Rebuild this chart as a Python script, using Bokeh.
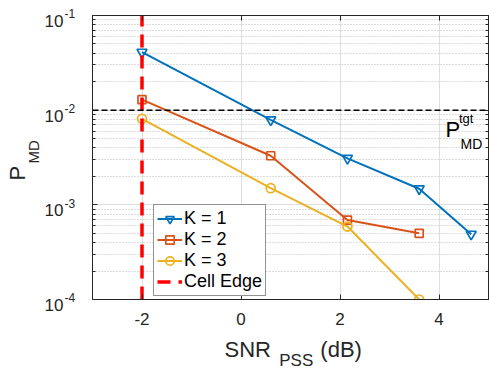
import math
from bokeh.plotting import figure
from bokeh.layouts import row, column
from bokeh.core.properties import value
from bokeh.models import (Range1d, FixedTicker, LogAxis, LinearAxis, Span, Label,
                          Legend, LegendItem, CustomJSTickFormatter)
from bokeh.embed import file_html
from bokeh.resources import INLINE

# ---- data ----
snr_k1 = [-2, 0.6, 2.15, 3.6, 4.65]
pmd_k1 = [0.041, 0.0079, 0.0031, 0.00148, 0.00049]
snr_k2 = [-2, 0.6, 2.15, 3.6]
pmd_k2 = [0.0129, 0.0033, 0.00069, 0.0005]
snr_k3 = [-2, 0.6, 2.15, 3.6]
pmd_k3 = [0.0081, 0.0015, 0.00059, 0.0001]
series_labels = ["K = 1", "K = 2", "K = 3"]
cell_edge_snr = -2
edge_label = "Cell Edge"
pmd_target = 1e-2
x_ticks = [-2, 0, 2, 4]
y_ticks = [1e-4, 1e-3, 1e-2, 1e-1]
y_tick_exps = ["-4", "-3", "-2", "-1"]
x_lim = (-3, 5)
y_lim = (1e-4, 1e-1)

# ---- layout (canvas pixels) ----
W, H = 489, 371
FL, FR, FT, FB = 92, 488, 15, 299       # plot frame edges on the page
LW = 84                                   # width of the left text strip
MAIN_H = 338                              # height of the main figure
AX = "#262626"
FONT = "Liberation Sans"

fw = FR - FL
fh = FB - FT
ldec = math.log10(y_lim[1]) - math.log10(y_lim[0])


def px_x(px):
    return x_lim[0] + (px - FL) / fw * (x_lim[1] - x_lim[0])


def px_y(py):
    frac = (FB - py) / fh
    return 10 ** (math.log10(y_lim[0]) + frac * ldec)


def py_of(yv):
    return FT + (math.log10(y_lim[1]) - math.log10(yv)) / ldec * fh


# ---- main figure ----
p = figure(width=W - LW, height=MAIN_H, x_range=Range1d(*x_lim), y_range=Range1d(*y_lim),
           y_axis_type="log", output_backend="svg", toolbar_location=None,
           min_border_left=FL - LW, min_border_right=W - FR,
           min_border_top=FT, min_border_bottom=MAIN_H - FB)
p.background_fill_color = "white"
p.border_fill_color = "white"
p.outline_line_color = AX
p.outline_line_width = 1

minor = [m * 10 ** e for e in (-4, -3, -2) for m in range(2, 10)]


def style_axis(ax):
    ax.axis_line_color = AX
    ax.axis_line_width = 1
    ax.major_tick_line_color = AX
    ax.minor_tick_line_color = AX
    ax.major_tick_in = 5
    ax.major_tick_out = 0
    ax.minor_tick_in = 3
    ax.minor_tick_out = 0


xa = p.xaxis[0]
xa.ticker = FixedTicker(ticks=x_ticks)
xa.formatter = CustomJSTickFormatter(code="return String(tick)")
style_axis(xa)
xa.major_label_text_font = FONT
xa.major_label_text_font_size = "17px"
xa.major_label_text_color = AX
xa.major_label_standoff = 13

ya = p.yaxis[0]
ya.ticker = FixedTicker(ticks=y_ticks, minor_ticks=minor)
ya.formatter = CustomJSTickFormatter(code="return ''")
ya.major_label_standoff = 0
style_axis(ya)

top = LinearAxis(ticker=FixedTicker(ticks=x_ticks), formatter=CustomJSTickFormatter(code="return ''"),
                 major_label_standoff=0)
style_axis(top)
p.add_layout(top, "above")
right = LogAxis(ticker=FixedTicker(ticks=y_ticks, minor_ticks=minor),
                formatter=CustomJSTickFormatter(code="return ''"), major_label_standoff=0)
style_axis(right)
p.add_layout(right, "right")

p.xgrid.ticker = FixedTicker(ticks=x_ticks)
p.xgrid.grid_line_color = "#dedede"
p.ygrid.ticker = FixedTicker(ticks=y_ticks, minor_ticks=minor)
p.ygrid.grid_line_color = "#dedede"
p.ygrid.minor_grid_line_color = "#b8b8b8"
p.ygrid.minor_grid_line_dash = "1 2"

# ---- threshold ----
p.add_layout(Span(location=pmd_target, dimension="width", line_color="black",
                  line_width=1.5, line_dash="6 3"))

# ---- series ----
colors = ["#0072BD", "#D95319", "#EDB120"]
markers = ["inverted_triangle", "square", "circle"]
sizes = [10, 8, 9]
items = []
for xs, ys, c, m, sz, lab in zip([snr_k1, snr_k2, snr_k3], [pmd_k1, pmd_k2, pmd_k3],
                                 colors, markers, sizes, series_labels):
    ln = p.line(xs, ys, line_color=c, line_width=2)
    sc = p.scatter(xs, ys, marker=m, size=sz, line_color=c, line_width=1.7, fill_alpha=0)
    items.append(LegendItem(label=lab, renderers=[ln, sc]))

seg = p.segment(x0=[cell_edge_snr], y0=[y_lim[0]], x1=[cell_edge_snr], y1=[y_lim[1]],
                line_color="#FF0000", line_width=3.5, line_dash="13 8")
items.append(LegendItem(label=edge_label, renderers=[seg]))

legend = Legend(items=items, location=(61, 3))
legend.label_text_font = FONT
legend.label_text_font_size = "18px"
legend.label_text_color = "black"
legend.border_line_color = AX
legend.border_line_width = 1
legend.background_fill_color = "white"
legend.background_fill_alpha = 1
legend.glyph_width = 25
legend.glyph_height = 21
legend.label_height = 21
legend.spacing = 0
legend.padding = 3
legend.margin = 0
legend.label_standoff = 2
p.add_layout(legend)


def add_label(text, px, py, size, color="black", align="left"):
    # py is the visual vertical centre of the text
    p.add_layout(Label(x=px_x(px), y=px_y(py), text=text, text_font=FONT,
                       text_font_size=size, text_color=color, text_align=align,
                       text_baseline="middle"))


# ---- target label (inside frame) ----
add_label("P", 445, 129, "22px")
add_label("tgt", 458.5, 118, "13px")
add_label("MD", 460, 143, "14px")


def strip(width, height, x0, x1, y_top, y_bot):
    f = figure(width=width, height=height, x_range=Range1d(x0, x1), y_range=Range1d(y_bot, y_top),
               output_backend="svg", toolbar_location=None, min_border=0,
               min_border_left=0, min_border_right=0, min_border_top=0, min_border_bottom=0,
               x_axis_location=None, y_axis_location=None)
    f.grid.visible = False
    f.outline_line_color = None
    f.background_fill_color = "white"
    f.border_fill_color = "white"
    return f


def put(f, text, px, py, size, align="left", angle=0.0, color=AX):
    # py (or px when rotated) is the visual centre line of the text
    f.text(x=[px], y=[py], text=[text], text_font=value(FONT), text_font_size=value(size),
           text_color=color, text_align=align, text_baseline="middle", angle=angle)


# ---- left strip: y tick labels and y axis label ----
left = strip(LW, H, 0, LW, 0, H)
for yt, e in zip(y_ticks, y_tick_exps):
    pyt = py_of(yt)
    put(left, "10", 63, pyt + 5.5, "17px", align="right")
    put(left, e, 64, pyt - 1.8, "12px")
put(left, "P", 16.5, 180, "22px", angle=math.pi / 2)
put(left, "MD", 33, 163, "15px", angle=math.pi / 2)

# ---- bottom strip: x axis label ----
bottom = strip(W - LW, H - MAIN_H, LW, W, MAIN_H, H)
put(bottom, "SNR", 219, 348.5, "22px")
put(bottom, "PSS", 275, 360, "17px")
put(bottom, "(dB)", 317, 348.5, "22px")

layout = row(left, column(p, bottom))
open("out.html", "w").write(file_html(layout, INLINE))
